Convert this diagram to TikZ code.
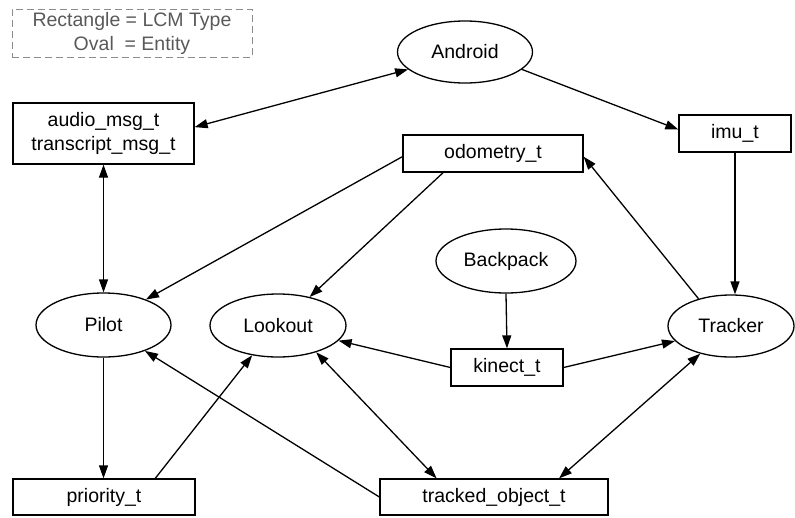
\documentclass[tikz,border=0pt]{standalone}
\usepackage{fontspec}
\setmainfont{Liberation Sans}
\usetikzlibrary{shapes.geometric,arrows.meta}
\begin{document}
\begin{tikzpicture}[x=1pt,y=-1pt,
  every node/.style={font=\fontsize{19.5}{24}\selectfont, text=black, inner sep=0pt},
  ent/.style={ellipse, draw, line width=1.3pt},
  lcm/.style={rectangle, draw, line width=1.3pt},
  legendbox/.style={rectangle, draw=black!45, dash pattern=on 7pt off 4pt, line width=0.9pt,
    text=black!65, align=center, minimum width=240pt, minimum height=48pt},
  conn/.style={line width=1.3pt, -{Triangle[length=13pt,width=9pt]}},
  bi/.style={line width=1.3pt, {Triangle[length=13pt,width=9pt]}-{Triangle[length=13pt,width=9pt]}},
]
\useasboundingbox (0,0) rectangle (795,517);

% legend
\node[legendbox] (legend) at (132,33) {Rectangle = LCM Type\\Oval\ \ = Entity};

% entities
\node[ent, minimum width=135pt, minimum height=62pt] (android) at (465,52) {Android};
\node[ent, minimum width=140pt, minimum height=64pt] (backpack) at (506,261) {Backpack};
\node[ent, minimum width=135pt, minimum height=64pt] (pilot) at (103.5,325) {Pilot};
\node[ent, minimum width=136pt, minimum height=63pt] (lookout) at (278,325.5) {Lookout};
\node[ent, minimum width=126pt, minimum height=62pt] (tracker) at (731,326) {Tracker};

% LCM types
\node[lcm, align=center, minimum width=181pt, minimum height=61pt] (audio) at (103.5,133.5) {audio\_msg\_t\\transcript\_msg\_t};
\node[lcm, minimum width=112pt, minimum height=37pt] (imu) at (735,133.5) {imu\_t};
\node[lcm, minimum width=180pt, minimum height=37pt] (odometry) at (493,153.5) {odometry\_t};
\node[lcm, minimum width=112pt, minimum height=37pt] (kinect) at (507,367.5) {kinect\_t};
\node[lcm, minimum width=182pt, minimum height=36pt] (priority) at (104,497) {priority\_t};
\node[lcm, minimum width=228pt, minimum height=36pt] (tracked) at (494,497) {tracked\_object\_t};

% connectors
\draw[bi] (android.197) -- (audio.4);
\draw[conn] (android.343) -- (imu.176);
\draw[bi] (audio.south) -- (pilot.north);
\draw[conn] (odometry.182) -- (pilot.31);
\draw[conn] (odometry.201) -- (lookout.42);
\draw[conn] (tracker.140) -- (odometry.358);
\draw[conn] (imu.south) -- (imu.south |- tracker.north);
\draw[conn] (backpack.south) -- (kinect.north);
\draw[conn] (kinect.west) -- (lookout.346);
\draw[conn] (kinect.east) -- (tracker.195);
\draw[conn] (pilot.south) -- (pilot.south |- priority.north);
\draw[conn] (priority.20) -- (lookout.229);
\draw[conn] (tracked.west) -- (pilot.328);
\draw[bi] (lookout.325) -- (tracked.162);
\draw[bi] (tracker.222) -- (tracked.16);
\end{tikzpicture}
\end{document}
